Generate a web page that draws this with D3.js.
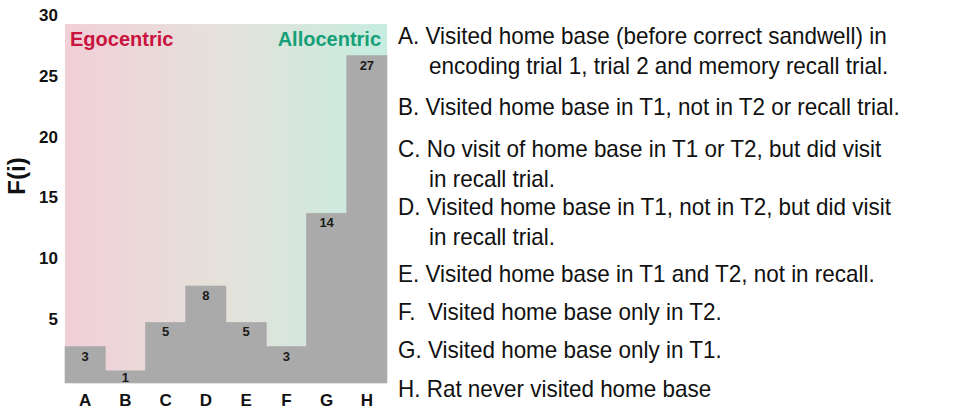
<!DOCTYPE html>
<html>
<head>
<meta charset="utf-8">
<script src="https://cdn.jsdelivr.net/npm/d3@7"></script>
<style>
  body { margin: 0; background: #fff; }
  svg { display: block; }
</style>
</head>
<body>
<script>
// categories and counts
var categories = ["A", "B", "C", "D", "E", "F", "G", "H"];
var counts = [3, 1, 5, 8, 5, 3, 14, 27];
var yTicks = [5, 10, 15, 20, 25, 30];

var notes = [
    ["A. Visited home base (before correct sandwell) in", "encoding trial 1, trial 2 and memory recall trial."],
    ["B. Visited home base in T1, not in T2 or recall trial."],
    ["C. No visit of home base in T1 or T2, but did visit", "in recall trial."],
    ["D. Visited home base in T1, not in T2, but did visit", "in recall trial."],
    ["E. Visited home base in T1 and T2, not in recall."],
    ["F.  Visited home base only in T2."],
    ["G. Visited home base only in T1."],
    ["H. Rat never visited home base"]
];
// baseline of first line for each note
var noteY = [44, 115, 157, 215, 282, 320, 358, 397];

var W = 974, H = 411;
var plot = {left: 65, right: 387, top: 19.25, bottom: 383};
var font = "Liberation Sans, Arial, sans-serif";

var svg = d3.select("body").append("svg")
    .attr("width", W)
    .attr("height", H);

var x = d3.scaleBand().domain(categories).range([plot.left, plot.right]).padding(0);
var y = d3.scaleLinear().domain([0, 30]).range([plot.bottom, plot.top]);

// gradient background
var grad = svg.append("defs").append("linearGradient")
    .attr("id", "bg").attr("x1", "0%").attr("x2", "100%");
grad.append("stop").attr("offset", "0%").attr("stop-color", "#f1cfd8");
grad.append("stop").attr("offset", "50%").attr("stop-color", "#e4e2da");
grad.append("stop").attr("offset", "100%").attr("stop-color", "#c6ece0");

svg.append("rect")
    .attr("x", plot.left)
    .attr("y", y(29.6))
    .attr("width", plot.right - plot.left)
    .attr("height", plot.bottom - y(29.6))
    .style("fill", "url(#bg)");

svg.append("text")
    .attr("x", 70).attr("y", 46)
    .attr("font-family", font)
    .attr("font-weight", "bold").attr("font-size", "20px")
    .style("fill", "#c8143e")
    .text("Egocentric");

svg.append("text")
    .attr("x", 381).attr("y", 46)
    .attr("text-anchor", "end")
    .attr("font-family", font)
    .attr("font-weight", "bold").attr("font-size", "20px")
    .style("fill", "#16a077")
    .text("Allocentric");

var data = categories.map(function(c, i) { return {cat: c, value: counts[i]}; });

// bars (no gaps)
svg.selectAll(".bar").data(data).enter().append("rect")
    .attr("class", "bar")
    .attr("x", function(d) { return x(d.cat); })
    .attr("width", x.bandwidth())
    .attr("y", function(d) { return y(d.value); })
    .attr("height", function(d) { return plot.bottom - y(d.value); })
    .style("fill", "#aaaaaa")
    .style("stroke", "#aaaaaa")
    .style("stroke-width", 0.6);

svg.selectAll(".val").data(data).enter().append("text")
    .attr("class", "val")
    .attr("x", function(d) { return x(d.cat) + x.bandwidth() / 2; })
    .attr("y", function(d) { return Math.min(y(d.value) + 14, plot.bottom - 1.5); })
    .attr("text-anchor", "middle")
    .attr("font-family", font)
    .attr("font-weight", "bold").attr("font-size", "13px")
    .style("fill", "#1a1a1a")
    .text(function(d) { return d.value; });

// axes
var yAxis = d3.axisLeft(y).tickValues(yTicks).tickSize(0).tickPadding(0);
var gy = svg.append("g")
    .attr("transform", "translate(58,0)")
    .call(yAxis);
gy.select(".domain").remove();
gy.attr("font-size", null).attr("font-family", null);
gy.selectAll("text")
    .attr("dy", "0.1em")
    .attr("font-family", font)
    .attr("font-weight", "bold").attr("font-size", "17px")
    .style("fill", "#111");

var xAxis = d3.axisBottom(x).tickSize(0).tickPadding(0);
var gx = svg.append("g")
    .attr("transform", "translate(0," + 394 + ")")
    .call(xAxis);
gx.select(".domain").remove();
gx.attr("font-size", null).attr("font-family", null);
gx.selectAll("text")
    .attr("font-family", font)
    .attr("font-weight", "bold").attr("font-size", "17px")
    .style("fill", "#111");

svg.append("text")
    .attr("transform", "translate(25,176) rotate(-90)")
    .attr("text-anchor", "middle")
    .attr("font-family", font)
    .attr("font-weight", "bold").attr("font-size", "24px")
    .style("fill", "#111")
    .text("F(i)");

// notes on the right
var noteG = svg.append("g");
var lines = [];
notes.forEach(function(n, i) {
    n.forEach(function(t, j) {
        lines.push({text: t, x: j == 0 ? 398 : 429, y: noteY[i] + j * 30});
    });
});
var nt = noteG.selectAll("text").data(lines).enter().append("text")
    .attr("font-family", font)
    .attr("font-size", "23px")
    .style("fill", "#111")
    .style("white-space", "pre")
    .text(function(d) { return d.text; });

// squeeze horizontally so line B is ~502px wide like the reference
var bw = nt.filter(function(d) { return d.text.indexOf("B.") == 0; }).node().getComputedTextLength();
var sx = 502 / bw;
nt.attr("transform", function(d) { return "translate(" + d.x + "," + d.y + ") scale(" + sx + ",1)"; });
</script>
</body>
</html>
